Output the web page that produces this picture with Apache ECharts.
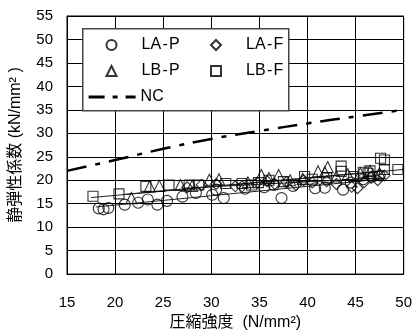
<!DOCTYPE html>
<html>
<head>
<meta charset="utf-8">
<title>静弾性係数と圧縮強度</title>
<script src="https://cdn.jsdelivr.net/npm/echarts@6/dist/echarts.min.js"></script>
<style>
  html, body {margin: 0; padding: 0; background: #fff;}
  #chart {width: 415px; height: 336px;}
</style>
</head>
<body>
<div id="chart"></div>
<script>
  // x ticks / y ticks
  var xTicks = [15, 20, 25, 30, 35, 40, 45, 50];
  var yTicks = [0, 5, 10, 15, 20, 25, 30, 35, 40, 45, 50, 55];

  // [圧縮強度, 静弾性係数]
  var laP = [[18.3,14.0],[18.8,13.8],[19.3,14.1],[21.0,14.8],[22.4,15.2],[23.4,15.9],[24.4,14.8],
    [25.4,15.6],[27.0,16.5],[28.4,17.3],[30.1,16.9],[31.3,16.2],[30.5,18.0],[33.5,18.2],[35.5,18.5],
    [36.5,19.0],[37.3,16.2],[38.5,18.8],[40.8,18.3],[41.8,18.4],[43.7,18.0],[44.5,19.5],[45.8,20.2],
    [46.8,20.8],[47.5,21.0]];
  var laF = [[27.5,18.5],[29.0,19.0],[30.5,19.2],[32.5,18.7],[33.2,18.7],[34.8,19.5],[35.8,19.8],
    [36.6,19.2],[37.8,19.6],[38.8,19.0],[39.6,20.0],[40.5,19.5],[42.0,19.8],[43.0,19.2],[44.6,18.6],
    [45.2,18.3],[45.9,19.6],[46.6,20.5],[47.3,20.0],[48.0,21.0]];
  var lbP = [[21.7,16.2],[23.6,18.7],[24.6,18.8],[26.8,19.0],[28.0,18.8],[29.8,20.1],[30.8,20.2],
    [33.8,19.6],[35.2,21.1],[36.0,20.5],[37.0,21.1],[38.2,20.0],[39.5,20.3],[41.1,21.9],[41.8,21.7],
    [42.1,22.8],[43.0,20.8],[44.2,21.3],[45.5,21.5],[46.5,22.0],[47.5,21.5]];
  var lbF = [[17.7,16.6],[20.4,17.1],[23.2,18.7],[25.6,19.0],[27.7,19.0],[28.7,19.0],[31.5,19.3],
    [33.2,19.3],[34.2,19.0],[34.9,19.5],[36.0,20.0],[37.5,19.7],[39.7,20.8],[40.5,20.2],[42.0,20.5],
    [43.5,21.9],[43.5,23.0],[44.8,20.8],[45.8,21.7],[46.3,21.5],[46.5,22.0],[47.6,24.7],[48.0,24.3],
    [48.0,22.3],[49.4,22.3]];
  var nc = [[15,22.0],[20,24.3],[25,26.7],[30,28.8],[35,30.5],[40,32.1],[45,33.6],[50,35.0]];

  // 回帰線 (両端)
  var laPFit = [[18,14.3],[48,20.3]];
  var laFFit = [[27,18.3],[48,20.5]];
  var lbPFit = [[21,17.0],[48,22.0]];
  var lbFFit = [[17.5,16.3],[50,22.3]];

  var font = "'Liberation Sans', 'Noto Sans CJK JP', sans-serif";
  var chart = echarts.init(document.getElementById('chart'));

  function scatter(name, data, symbol, size){
    return {
      name: name, type: 'scatter', data: data, symbol: symbol, symbolSize: size,
      itemStyle: {color: 'rgba(0,0,0,0)', borderColor: '#000', borderWidth: 1.1},
      z: 3
    };
  }
  function fit(data){
    return {
      type: 'line', data: data, symbol: 'none', silent: true,
      lineStyle: {color: '#222', width: 1}, z: 2
    };
  }
  function legendAt(name, left, top, w, pad){
    return {
      data: [name], left: left, top: top, padding: 0, z: 6,
      itemWidth: w, itemHeight: 10, selectedMode: false,
      formatter: function(n){ return n.replace('-', '\u200A-\u200A'); },
      textStyle: {fontSize: 16, color: '#000', fontFamily: font, lineHeight: 16, padding: [0, 0, 0, pad]}
    };
  }

  var ncLegend = legendAt('NC', 87, 89, 47, 0);
  ncLegend.itemStyle = {opacity: 0};
  ncLegend.lineStyle = {width: 3.2, color: '#000', type: [16, 8, 5, 8]};

  var option = {
    animation: false,
    textStyle: {fontFamily: font},
    grid: {left: 67, right: 9, top: 16, bottom: 59, show: true, borderColor: '#000', borderWidth: 1},
    graphic: [{
      type: 'rect', left: 82, top: 28, z: 5,
      shape: {width: 206, height: 82},
      style: {fill: '#fff', stroke: '#444', lineWidth: 1.5}
    }],
    legend: [
      legendAt('LA-P', 105.5, 37, 10, 20),
      legendAt('LA-F', 210, 37, 10, 20),
      legendAt('LB-P', 105.5, 63, 10, 20),
      legendAt('LB-F', 210, 63, 10, 20),
      ncLegend
    ],
    xAxis: {
      type: 'value', min: xTicks[0], max: xTicks[xTicks.length - 1], interval: 5,
      name: '圧縮強度  (N/mm²)', nameLocation: 'middle', nameGap: 36,
      nameTextStyle: {fontSize: 16, color: '#000', fontFamily: font},
      axisLine: {lineStyle: {color: '#000', width: 1}},
      axisTick: {show: false},
      axisLabel: {fontSize: 15, color: '#000', margin: 21, fontFamily: font},
      splitLine: {lineStyle: {color: '#000', width: 1}}
    },
    yAxis: {
      type: 'value', min: yTicks[0], max: yTicks[yTicks.length - 1], interval: 5,
      name: '静弾性係数 (kN/mm² )', nameLocation: 'middle', nameGap: 43,
      nameTextStyle: {fontSize: 16, color: '#000', fontFamily: font},
      axisLine: {show: true, lineStyle: {color: '#000', width: 1}},
      axisTick: {show: false},
      axisLabel: {fontSize: 15, color: '#000', margin: 14, fontFamily: font},
      splitLine: {lineStyle: {color: '#000', width: 1}}
    },
    series: [
      fit(laPFit), fit(laFFit), fit(lbPFit), fit(lbFFit),
      scatter('LA-P', laP, 'circle', 11),
      scatter('LA-F', laF, 'diamond', 11),
      scatter('LB-P', lbP, 'triangle', 11),
      scatter('LB-F', lbF, 'rect', 10),
      {
        name: 'NC', type: 'line', data: nc, symbol: 'none', showSymbol: false, smooth: true,
        itemStyle: {color: '#000'},
        lineStyle: {color: '#000', width: 2.5, type: [20, 9, 5, 9]}, z: 4
      }
    ]
  };
  chart.setOption(option);
</script>
</body>
</html>
